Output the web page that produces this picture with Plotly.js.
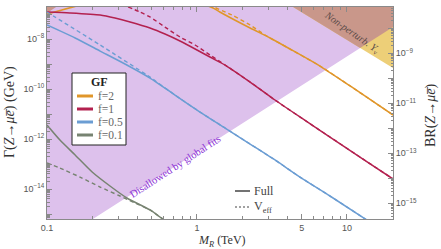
<!DOCTYPE html>
<html><head><meta charset="utf-8">
<script src="https://cdn.plot.ly/plotly-3.0.1.min.js"></script>
<style>html,body{margin:0;padding:0;background:#fff}#chart{width:441px;height:249px}</style>
</head><body><div id="chart"></div>
<script>
// ---- data (M_R in TeV, Gamma in GeV) ----
const f2FullM = [0.1, 0.149, 0.25, 0.5, 0.9, 1.28, 1.42, 2.26, 3.07, 4.17, 6.61, 10.5, 20.3];
const f2FullG = [1.0e-7, 1.91e-7, 4e-7, 5e-7, 3.5e-7, 1.74e-7, 1.2e-7, 2.75e-8, 1.1e-8, 3.98e-9, 8.3e-10, 1.32e-10, 9.1e-12];
const f2EffM  = [1.2, 1.71, 2.26, 2.84, 3.07, 4.17, 6.61, 10.5, 20.3];
const f2EffG  = [2.3e-7, 9.1e-8, 3.63e-8, 1.45e-8, 1.1e-8, 3.98e-9, 8.3e-10, 1.32e-10, 9.1e-12];

const f1FullM = [0.1, 0.142, 0.226, 0.284, 0.358, 0.486, 0.612, 0.770, 1.0, 1.22, 1.54, 2.26, 3.31, 4.86, 7.70, 12.2, 20.3];
const f1FullG = [1.2e-7, 1.1e-7, 9.1e-8, 6.9e-8, 4.8e-8, 2.75e-8, 1.58e-8, 8.3e-9, 3.63e-9, 1.9e-9, 9.1e-10, 1.9e-10, 3.63e-11, 7.6e-12, 1.2e-12, 1.9e-13, 2.5e-14];
const f1EffM  = [0.347, 0.417, 0.486, 0.612, 0.770, 0.970, 1.22, 1.54, 2.26, 3.31, 4.86, 7.70, 12.2, 20.3];
const f1EffG  = [1.91e-7, 1.2e-7, 7.6e-8, 3.0e-8, 1.2e-8, 5.75e-9, 2.3e-9, 9.1e-10, 1.9e-10, 3.63e-11, 7.6e-12, 1.2e-12, 1.9e-13, 2.5e-14];

const f05FullM = [0.1, 0.154, 0.226, 0.331, 0.486, 0.713, 1.047, 1.54, 2.26, 3.31, 4.86, 7.70, 14.2];
const f05FullG = [3.63e-8, 1.1e-8, 3.3e-9, 1.0e-9, 2.75e-10, 5.75e-11, 1.2e-11, 2.75e-12, 6.3e-13, 1.45e-13, 3.0e-14, 5.25e-15, 4.8e-16];
const f05EffM  = [0.1, 0.113, 0.226, 0.464, 0.486, 0.713, 1.047, 1.54, 2.26, 3.31, 4.86, 7.70, 14.2];
const f05EffG  = [1.2e-7, 7.6e-8, 5.75e-9, 3.63e-10, 3.0e-10, 5.75e-11, 1.2e-11, 2.75e-12, 6.3e-13, 1.45e-13, 3.0e-14, 5.25e-15, 4.8e-16];

const f01FullM = [0.1, 0.122, 0.154, 0.2, 0.263, 0.341, 0.486, 0.593, 0.661];
const f01FullG = [3.63e-12, 9.1e-13, 2.3e-13, 4.8e-14, 1.32e-14, 4.37e-15, 1.45e-15, 6.3e-16, 4.4e-16];
const f01EffM  = [0.1, 0.122, 0.166, 0.226, 0.307, 0.386, 0.486, 0.593, 0.661];
const f01EffG  = [1.1e-13, 6.9e-14, 3.0e-14, 1.2e-14, 5.25e-15, 2.75e-15, 1.45e-15, 6.3e-16, 4.4e-16];

// region boundaries
const fitBoundM = [0.15, 25], fitBoundG = [2e-16, 6.8e-8];          // "Disallowed by global fits"
const perturbBoundM = [3.5, 25], perturbBoundG = [4.3e-7, 3.2e-10]; // "Non-perturb. Y"
const perturbLowM = [0.09, 0.13, 0.09], perturbLowG = [7.2e-8, 3.1e-7, 3.1e-7];

const seriesNames = ['f=2', 'f=1', 'f=0.5', 'f=0.1'];
const xTickVals = [0.1, 1, 5, 10];
const xTickText = ['0.1', '1', '5', '10'];
const GAMMA_Z = 2.7;

const colors = ['#e0962a', '#b3214f', '#6b9dd3', '#778371'];
const cPurple = '#ddc1ec', cYellow = '#edcf78', cBrown = '#c9978a';
const TOP = 1e-5, BOT = 1e-17, XR = 25, XL = 0.09;

function lineLog(M, G) {
  const x0 = Math.log10(M[0]), x1 = Math.log10(M[1]);
  const y0 = Math.log10(G[0]), y1 = Math.log10(G[1]);
  const b = (y1 - y0) / (x1 - x0); return {a: y0 - b * x0, b: b};
}
const L1 = lineLog(fitBoundM, fitBoundG), L2 = lineLog(perturbBoundM, perturbBoundG);
const xi = (L2.a - L1.a) / (L1.b - L2.b), yi = L1.a + L1.b * xi;
const Mi = Math.pow(10, xi), Gi = Math.pow(10, yi);

const fillTr = (x, y, c) => ({x, y, type: 'scatter', mode: 'lines', fill: 'toself', fillcolor: c,
  line: {width: 0, color: c}, hoverinfo: 'skip', showlegend: false});

const traces = [
  fillTr([XL, fitBoundM[0], fitBoundM[1], XR, XL], [BOT, fitBoundG[0], fitBoundG[1], TOP, TOP], cPurple),
  fillTr([perturbBoundM[0], perturbBoundM[1], XR, perturbBoundM[0]], [perturbBoundG[0], perturbBoundG[1], TOP, TOP], cYellow),
  fillTr([perturbBoundM[0], Mi, fitBoundM[1], XR, perturbBoundM[0]], [perturbBoundG[0], Gi, fitBoundG[1], TOP, TOP], cBrown),
  fillTr(perturbLowM, perturbLowG, cBrown)
];
const full = [[f2FullM, f2FullG], [f1FullM, f1FullG], [f05FullM, f05FullG], [f01FullM, f01FullG]];
const eff = [[f2EffM, f2EffG], [f1EffM, f1EffG], [f05EffM, f05EffG], [f01EffM, f01EffG]];
for (let i = 0; i < 4; i++) {
  traces.push({x: eff[i][0], y: eff[i][1], type: 'scatter', mode: 'lines', name: seriesNames[i] + ' Veff',
    line: {color: colors[i], width: 1.4, dash: '4px,3px', shape: 'spline', smoothing: 0.6}, showlegend: false, hoverinfo: 'skip'});
  traces.push({x: full[i][0], y: full[i][1], type: 'scatter', mode: 'lines', name: seriesNames[i],
    line: {color: colors[i], width: 1.5, shape: 'spline', smoothing: 0.6}, showlegend: false, hoverinfo: 'skip'});
}

function decades(lo, hi) { const v = []; for (let e = lo; e <= hi; e++) v.push(Math.pow(10, e)); return v; }
function minors(lo, hi) { const v = []; for (let e = lo; e <= hi; e++) for (let k = 2; k <= 9; k++) v.push(k * Math.pow(10, e)); return v; }
const sup = e => '10<sup>\u2212' + (-e) + '</sup>';
const yLeftVals = decades(-16, -6);
const yLeftText = yLeftVals.map(v => { const e = Math.round(Math.log10(v)); return (e % 2 === 0 && e <= -8 && e >= -14) ? sup(e) : ''; });
const yRightText = yLeftVals.map(v => { const e = Math.round(Math.log10(v)); return (e % 2 !== 0 && e <= -9 && e >= -15) ? sup(e) : ''; });
const xMinor = [0.2,0.3,0.4,0.5,0.6,0.7,0.8,0.9,2,3,4,6,7,8,9,20];

const axCol = '#8a8a8a';
const tickFont = {family: 'Liberation Sans, Arial, sans-serif', size: 9, color: '#555'};
const W = 441, H = 249, ml = 47, mr = 48, mt = 7, mb = 30;
const pw = W - ml - mr, ph = H - mt - mb;
const PX = x => (x - ml) / pw, PY = y => (H - mb - y) / ph;
const yTop = -6.72, yBot = -15.2;
const serif = 'Liberation Serif, Times New Roman, serif';

const shapes = [
  {type: 'rect', xref: 'paper', yref: 'paper', x0: PX(72), x1: PX(126), y0: PY(145), y1: PY(73),
   fillcolor: '#fff', line: {color: '#222', width: 1}, layer: 'above'}
];
const legY = [96, 109, 122, 135];
for (let i = 0; i < 4; i++) shapes.push({type: 'line', xref: 'paper', yref: 'paper', x0: PX(77), x1: PX(93), y0: PY(legY[i]), y1: PY(legY[i]),
  line: {color: colors[i], width: 3}, layer: 'above'});
shapes.push({type: 'line', xref: 'paper', yref: 'paper', x0: PX(235), x1: PX(250), y0: PY(191), y1: PY(191), line: {color: '#444', width: 1.5}});
shapes.push({type: 'line', xref: 'paper', yref: 'paper', x0: PX(235), x1: PX(250), y0: PY(207), y1: PY(207), line: {color: '#444', width: 1.2, dash: '2px,2px'}});

const ann = (text, x, y, font, extra) => Object.assign({text, x: PX(x), y: PY(y), xref: 'paper', yref: 'paper',
  xanchor: 'center', yanchor: 'middle', showarrow: false, font}, extra || {});
const annotations = [
  ann('<b>GF</b>', 99, 82, {family: serif, size: 12, color: '#222'}),
  ann('Full', 252, 191, {family: serif, size: 12, color: '#444'}, {xanchor: 'left'}),
  ann('V<sub>eff</sub>', 252, 207, {family: serif, size: 12, color: '#444'}, {xanchor: 'left'}),
  ann('Disallowed by global fits', 175, 166, {family: serif, size: 10.5, color: '#8a2fd6'}, {textangle: -33}),
  ann('<i>Non-perturb. Y</i><sub>ν</sub>', 351, 33, {family: serif, size: 10, color: '#5a4a48'}, {textangle: 35}),
  ann('Γ(<i>Z</i>→<i>μe̅</i>) (GeV)', 10, 112, {family: serif, size: 14, color: '#333'}, {textangle: -90}),
  ann('BR(<i>Z</i>→<i>μe̅</i>)', 431, 115, {family: serif, size: 14, color: '#333'}, {textangle: -90}),
  ann('<i>M</i><sub><i>R</i></sub> (TeV)', 222, 240.5, {family: serif, size: 12, color: '#333'})
];
for (let i = 0; i < 4; i++) annotations.push(ann(seriesNames[i], 96, legY[i], {family: serif, size: 11.5, color: '#666'}, {xanchor: 'left'}));

const layout = {
  width: W, height: H, margin: {l: ml, r: mr, t: mt, b: mb},
  paper_bgcolor: '#fff', plot_bgcolor: '#fff', showlegend: false,
  xaxis: {type: 'log', range: [-1, Math.log10(20.27)], tickmode: 'array', tickvals: xTickVals, ticktext: xTickText,
    ticks: 'inside', ticklen: 5, tickcolor: axCol, showline: true, linecolor: axCol, linewidth: 1, mirror: 'ticks',
    showgrid: false, zeroline: false, tickfont: tickFont,
    minor: {tickvals: xMinor, ticks: 'inside', ticklen: 3, tickcolor: axCol, showgrid: false}},
  yaxis: {type: 'log', range: [yBot, yTop], tickmode: 'array', tickvals: yLeftVals, ticktext: yLeftText,
    ticks: 'inside', ticklen: 5, tickcolor: axCol, showline: true, linecolor: axCol, linewidth: 1,
    showgrid: false, zeroline: false, tickfont: tickFont,
    minor: {tickvals: minors(-16, -6), ticks: 'inside', ticklen: 2.5, tickcolor: axCol, showgrid: false}},
  yaxis2: {type: 'log', overlaying: 'y', side: 'right', anchor: 'x',
    range: [yBot - Math.log10(GAMMA_Z), yTop - Math.log10(GAMMA_Z)], tickmode: 'array', tickvals: yLeftVals, ticktext: yRightText,
    ticks: 'inside', ticklen: 5, tickcolor: axCol, showline: true, linecolor: axCol, linewidth: 1,
    showgrid: false, zeroline: false, tickfont: tickFont,
    minor: {tickvals: minors(-17, -6), ticks: 'inside', ticklen: 2.5, tickcolor: axCol, showgrid: false}},
  shapes, annotations
};
traces.push({x: [null], y: [null], yaxis: 'y2', type: 'scatter', mode: 'lines', showlegend: false, hoverinfo: 'skip'});
Plotly.newPlot('chart', traces, layout, {staticPlot: true, displayModeBar: false});
</script></body></html>
